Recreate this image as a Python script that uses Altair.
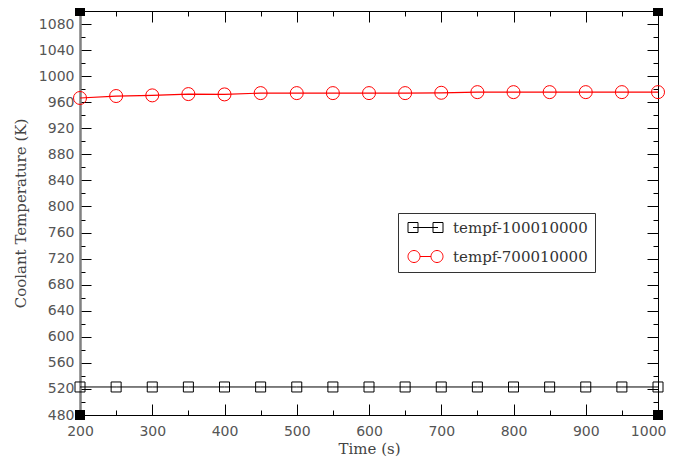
import altair as alt
import pandas as pd

# ---- data ----
times = [200, 250, 300, 350, 400, 450, 500, 550, 600, 650, 700, 750, 800, 850, 900, 950, 1000]
temp_100010000 = [523, 523, 523, 523, 523, 523, 523, 523, 523, 523, 523, 523, 523, 523, 523, 523, 523]
temp_700010000 = [966.5, 969.5, 970.5, 972.5, 972.0, 974.0, 974.0, 974.0, 974.0, 974.0, 974.5,
                  975.5, 975.5, 975.5, 975.5, 975.5, 975.5]
series_names = ["tempf-100010000", "tempf-700010000"]
series_colors = ["black", "red"]

x_domain = [200, 1000]
y_domain = [480, 1100]
x_major = [200, 300, 400, 500, 600, 700, 800, 900, 1000]
x_minor = [250, 350, 450, 550, 650, 750, 850, 950]
y_major = [480, 520, 560, 600, 640, 680, 720, 760, 800, 840, 880, 920, 960, 1000, 1040, 1080]
y_minor = [500, 540, 580, 620, 660, 700, 740, 780, 820, 860, 900, 940, 980, 1020, 1060, 1100]
corner_x = [200, 200, 1000, 1000]
corner_y = [480, 1100, 480, 1100]

df = pd.DataFrame({
    "time": times * 2,
    "temp": temp_100010000 + temp_700010000,
    "series": [series_names[0]] * len(times) + [series_names[1]] * len(times),
})
df_black = df[df.series == series_names[0]]
df_red = df[df.series == series_names[1]]
df_corner = pd.DataFrame({"time": corner_x, "temp": corner_y})

FONT = "DejaVu Sans"
TFONT = "DejaVu Serif"
GREY = "#555555"
MAJ = 11
MIN = 5

xs = alt.Scale(domain=x_domain, nice=False, zero=False)
ys = alt.Scale(domain=y_domain, nice=False, zero=False)


def ax(orient, values, size, labels=False, title=None, pad=0, dcolor="black", dwidth=1, tpad=0,
       last_right=False):
    kw = dict(orient=orient, values=values, tickSize=alt.ExprRef(expr=str(-size)),
              tickColor="black", tickWidth=1, grid=False, domainColor=dcolor,
              domainWidth=dwidth, labels=labels, labelFlush=False, labelOverlap=False, format="d")
    if labels:
        kw.update(labelFont=FONT, labelFontSize=14, labelColor=GREY, labelPadding=pad)
        if last_right:
            kw.update(
                labelAlign={"condition": {"test": "datum.value == 1000", "value": "right"},
                            "value": "center"},
                labelOffset={"condition": {"test": "datum.value == 1000", "value": 8},
                             "value": 0},
            )
    if title:
        kw.update(title=title, titleFont=TFONT, titleFontSize=15, titleFontWeight="normal",
                  titleColor="#444444", titlePadding=tpad)
    else:
        kw.update(title=None)
    return alt.Axis(**kw)


def circle_path(cx, r):
    k = 0.5523 * r
    return (f"M{cx + r},0 C{cx + r},{k} {cx + k},{r} {cx},{r} "
            f"C{cx - k},{r} {cx - r},{k} {cx - r},0 "
            f"C{cx - r},{-k} {cx - k},{-r} {cx},{-r} "
            f"C{cx + k},{-r} {cx + r},{-k} {cx + r},0 Z")


sq_sym = "M-3.5,-1H-1.5V1H-3.5Z M-2.5,0H2.5 M1.5,-1H3.5V1H1.5Z"
ci_sym = circle_path(-2.3, 1.2) + " M-1.1,0H1.1 " + circle_path(2.3, 1.2)

black_line = alt.Chart(df_black).mark_line(color="black", strokeWidth=1).encode(
    x=alt.X("time:Q", scale=xs, axis=ax("bottom", x_major, MAJ, True, "Time (s)", pad=MAJ + 9,
                                         tpad=3, last_right=True)),
    y=alt.Y("temp:Q", scale=ys, axis=ax("left", y_major, MAJ, True, "Coolant Temperature (K)",
                                         pad=MAJ + 6, dcolor="#808080", dwidth=2, tpad=10)),
)
black_pts = alt.Chart(df_black).mark_point(shape="square", size=100, color="black",
                                            strokeWidth=1, filled=False, opacity=1).encode(
    x=alt.X("time:Q", scale=xs, axis=ax("bottom", x_minor, MIN)),
    y=alt.Y("temp:Q", scale=ys, axis=ax("left", y_minor, MIN, dcolor="#808080", dwidth=2)),
)
red_line = alt.Chart(df_red).mark_line(color="red", strokeWidth=1.2).encode(
    x=alt.X("time:Q", scale=xs, axis=ax("top", x_major, MAJ)),
    y=alt.Y("temp:Q", scale=ys, axis=ax("right", y_major, MAJ)),
)
red_pts = alt.Chart(df_red).mark_point(shape="circle", size=169, color="red",
                                        strokeWidth=1, filled=False, opacity=1).encode(
    x=alt.X("time:Q", scale=xs, axis=ax("top", x_minor, MIN)),
    y=alt.Y("temp:Q", scale=ys, axis=ax("right", y_minor, MIN)),
)
corners = alt.Chart(df_corner).mark_square(size=100, color="black", opacity=1).encode(
    x=alt.X("time:Q", scale=xs, axis=None),
    y=alt.Y("temp:Q", scale=ys, axis=None),
)
legend_layer = alt.Chart(df).mark_point(opacity=0, filled=False).encode(
    x=alt.X("time:Q", scale=xs, axis=None),
    y=alt.Y("temp:Q", scale=ys, axis=None),
    color=alt.Color("series:N", scale=alt.Scale(domain=series_names, range=series_colors),
                    legend=alt.Legend(title=None, orient="none", legendX=318, legendY=202,
                                      strokeColor="#333333", fillColor="white", padding=7,
                                      labelFont=TFONT, labelFontSize=15, labelColor="#333333",
                                      symbolSize=100, symbolStrokeWidth=1, symbolOpacity=1,
                                      symbolOffset=13, labelOffset=20, rowPadding=12)),
    shape=alt.Shape("series:N", scale=alt.Scale(domain=series_names, range=[sq_sym, ci_sym]),
                    legend=alt.Legend(title=None, orient="none", legendX=318, legendY=202)),
)

chart = alt.layer(black_line, black_pts, red_line, red_pts, corners, legend_layer).resolve_axis(
    x="independent", y="independent"
).properties(
    width=578, height=404,
    autosize=alt.AutoSizeParams(type="none"),
    padding={"left": 72, "top": 3, "right": 9, "bottom": 42},
).configure_view(stroke=None).configure(background="white")

chart.save("out.html", embed_options={"renderer": "svg", "actions": False})
